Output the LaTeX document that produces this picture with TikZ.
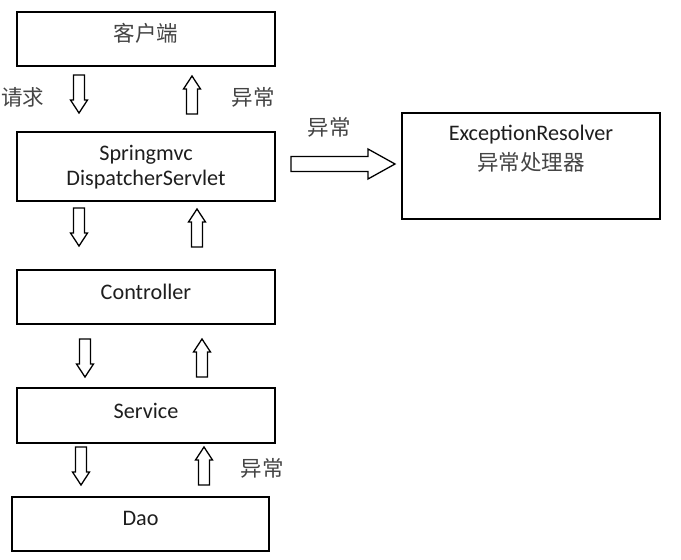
\documentclass[tikz,border=0pt]{standalone}
\usepackage{fontspec}
\setmainfont{Carlito}
\newfontfamily\cjk{Noto Sans CJK SC}
\definecolor{enc}{HTML}{1E1E1E}
\definecolor{zhc}{HTML}{444444}
\begin{document}
\begin{tikzpicture}[x=1pt,y=-1pt,
  box/.style={draw, line width=1.4pt, inner sep=0pt},
  en/.style={font=\fontsize{22.2}{26}\selectfont, text=enc, inner sep=0pt},
  zh/.style={font=\cjk\fontsize{21.5}{26}\selectfont, text=zhc, inner sep=0pt},
  arr/.style={draw, line width=1.3pt, fill=white, line join=miter},
  darr/.pic={\draw[arr] (-5.5,0) -- (5.5,0) -- (5.5,25) -- (8.5,25) -- (0,38) -- (-8.5,25) -- (-5.5,25) -- cycle;},
  uarr/.pic={\draw[arr] (0,0) -- (8.5,13) -- (5.5,13) -- (5.5,38) -- (-5.5,38) -- (-5.5,13) -- (-8.5,13) -- cycle;},
  rarr/.pic={\draw[arr] (0,-7.5) -- (77,-7.5) -- (77,-15) -- (104,0) -- (77,15) -- (77,7.5) -- (0,7.5) -- cycle;}
]
\useasboundingbox (0,0) rectangle (681,560);
% boxes
\node[box, minimum width=258pt, minimum height=54pt] (client) at (146,39) {};
\node[box, minimum width=258pt, minimum height=69pt] (disp) at (146,166.5) {};
\node[box, minimum width=258pt, minimum height=54pt] (ctrl) at (146,297) {};
\node[box, minimum width=258pt, minimum height=55pt] (serv) at (146,415.5) {};
\node[box, minimum width=257pt, minimum height=54pt] (dao) at (140.5,524) {};
\node[box, minimum width=258pt, minimum height=106pt] (resolver) at (531,166) {};
% box texts
\node[zh] (tclient) at (146,33) {客户端};
\node[en] (tdisp1) at (146,155) {Springmvc};
\node[en] (tdisp2) at (146,180) {DispatcherServlet};
\node[en] (tctrl) at (146,292) {Controller};
\node[en] (tserv) at (146,411) {Service};
\node[en] (tdao) at (140.5,518) {Dao};
\node[en] (tres1) at (531,135) {ExceptionResolver};
\node[zh] (tres2) at (531,162) {异常处理器};
% labels
\node[zh] (lreq) at (23,97) {请求};
\node[zh] (lexc1) at (253,97) {异常};
\node[zh] (lexc2) at (329,127) {异常};
\node[zh] (lexc3) at (262,468) {异常};
% arrows
\pic at (79,75) {darr};
\pic at (192,76) {uarr};
\pic at (79,208) {darr};
\pic at (197,209) {uarr};
\pic at (85,339) {darr};
\pic at (202,339) {uarr};
\pic at (81,447) {darr};
\pic at (204,447) {uarr};
\pic at (291,164) {rarr};
\end{tikzpicture}
\end{document}
